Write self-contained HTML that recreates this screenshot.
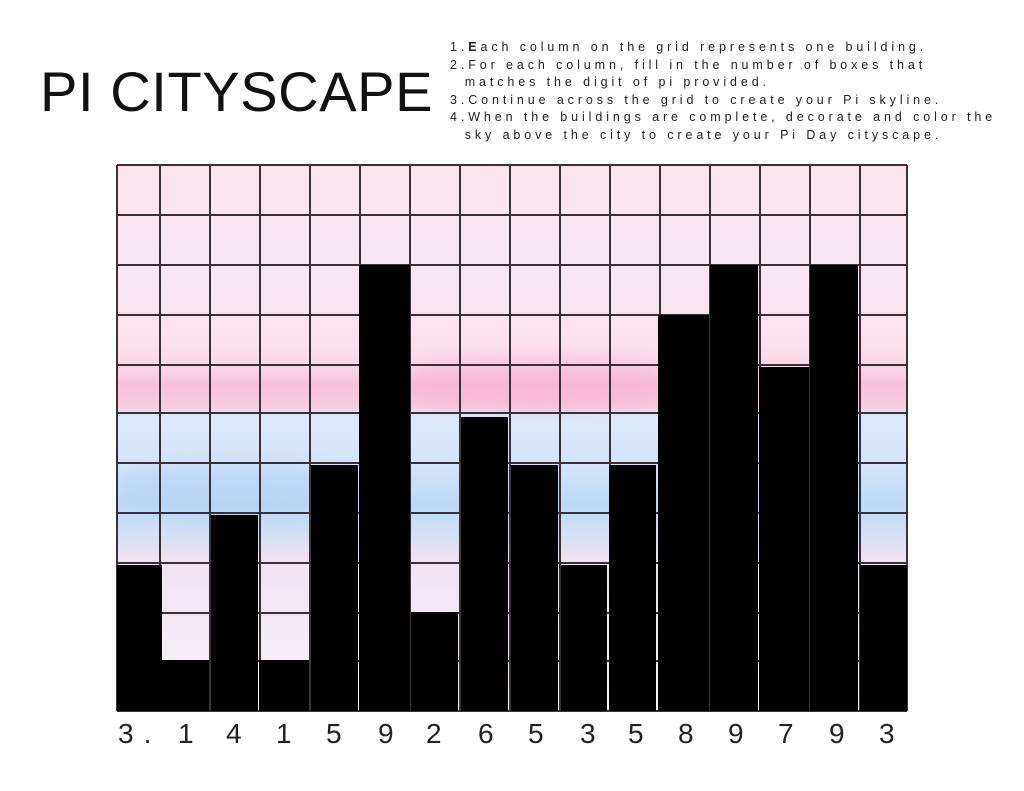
<!DOCTYPE html>
<html><head><meta charset="utf-8"><style>
html,body{margin:0;padding:0;background:#fff;}
body{width:1024px;height:791px;position:relative;overflow:hidden;font-family:"Liberation Sans","DejaVu Sans",sans-serif;}
.title{position:absolute;left:40px;top:57px;font-size:56px;letter-spacing:0.6px;color:#111;font-weight:normal;line-height:70px;}
.inst{position:absolute;left:450px;top:39px;font-size:12.5px;letter-spacing:3.9px;line-height:17.6px;color:#222;white-space:pre;}
.sky{position:absolute;left:117px;top:165px;width:790px;height:546px;overflow:hidden;
background:linear-gradient(180deg,#fbe3ee 0%,#f7e6f2 20%,#fbe0ec 33%,#f9d3e4 38%,#f8c0da 40%,#f7cadf 44%,#dde9fb 46%,#d3e4fa 55%,#bcd9f6 62%,#cfdff6 67%,#efe2f1 72%,#f3eaf5 85%,#fbf6fb 100%);}
.pink{position:absolute;left:290px;top:195px;width:260px;height:50px;background:#f7b3d4;opacity:.6;border-radius:40%;filter:blur(8px);}
.blue{position:absolute;left:0;top:300px;width:240px;height:50px;background:#b3cff4;opacity:.5;border-radius:40%;filter:blur(10px);}
svg{position:absolute;left:0;top:0;}
.nums{position:absolute;top:718px;font-size:28px;color:#222;letter-spacing:1px;}
</style></head><body>
<div class="title">PI CITYSCAPE</div>
<div class="inst">1.<b>E</b>ach column on the grid represents one building.
2.For each column, fill in the number of boxes that
  matches the digit of pi provided.
3.Continue across the grid to create your Pi skyline.
4.When the buildings are complete, decorate and color the
  sky above the city to create your Pi Day cityscape.</div>
<div class="sky"><div class="pink"></div><div class="blue"></div></div>
<svg width="1024" height="791">
<g stroke="#3a3038" stroke-width="2" fill="none">
<line x1="117" y1="165" x2="117" y2="711"/><line x1="160" y1="165" x2="160" y2="711"/>
<line x1="210" y1="165" x2="210" y2="711"/><line x1="260" y1="165" x2="260" y2="711"/>
<line x1="310" y1="165" x2="310" y2="711"/><line x1="360" y1="165" x2="360" y2="711"/>
<line x1="410" y1="165" x2="410" y2="711"/><line x1="460" y1="165" x2="460" y2="711"/>
<line x1="510" y1="165" x2="510" y2="711"/><line x1="560" y1="165" x2="560" y2="711"/>
<line x1="610" y1="165" x2="610" y2="711"/><line x1="660" y1="165" x2="660" y2="711"/>
<line x1="710" y1="165" x2="710" y2="711"/><line x1="760" y1="165" x2="760" y2="711"/>
<line x1="810" y1="165" x2="810" y2="711"/><line x1="860" y1="165" x2="860" y2="711"/>
<line x1="907" y1="165" x2="907" y2="711"/>
<line x1="117" y1="165" x2="907" y2="165"/><line x1="117" y1="215" x2="907" y2="215"/>
<line x1="117" y1="265" x2="907" y2="265"/><line x1="117" y1="315" x2="907" y2="315"/>
<line x1="117" y1="365" x2="907" y2="365"/><line x1="117" y1="413" x2="907" y2="413"/>
<line x1="117" y1="463" x2="907" y2="463"/><line x1="117" y1="513" x2="907" y2="513"/>
<line x1="117" y1="563" x2="907" y2="563"/><line x1="117" y1="613" x2="907" y2="613"/>
<line x1="117" y1="661" x2="907" y2="661"/><line x1="117" y1="711" x2="907" y2="711"/>
</g>
<g fill="#000">
<rect x="117" y="565" width="45" height="146"/>
<rect x="162" y="660" width="47" height="51"/>
<rect x="211" y="515" width="47" height="196"/>
<rect x="259" y="660" width="50" height="51"/>
<rect x="311" y="465" width="47" height="246"/>
<rect x="359" y="265" width="51" height="446"/>
<rect x="411" y="612" width="47" height="99"/>
<rect x="461" y="417" width="47" height="294"/>
<rect x="511" y="465" width="47" height="246"/>
<rect x="561" y="565" width="46" height="146"/>
<rect x="609" y="465" width="47" height="246"/>
<rect x="658" y="315" width="51" height="396"/>
<rect x="710" y="265" width="48" height="446"/>
<rect x="759" y="367" width="50" height="344"/>
<rect x="810" y="265" width="48" height="446"/>
<rect x="860" y="565" width="47" height="146"/>
</g>
</svg>
<div class="nums" style="left:118px;letter-spacing:10px">3.</div>
<div class="nums" style="left:178px">1</div>
<div class="nums" style="left:226px">4</div>
<div class="nums" style="left:276px">1</div>
<div class="nums" style="left:326px">5</div>
<div class="nums" style="left:378px">9</div>
<div class="nums" style="left:426px">2</div>
<div class="nums" style="left:478px">6</div>
<div class="nums" style="left:528px">5</div>
<div class="nums" style="left:580px">3</div>
<div class="nums" style="left:628px">5</div>
<div class="nums" style="left:678px">8</div>
<div class="nums" style="left:728px">9</div>
<div class="nums" style="left:778px">7</div>
<div class="nums" style="left:829px">9</div>
<div class="nums" style="left:879px">3</div>
</body></html>
